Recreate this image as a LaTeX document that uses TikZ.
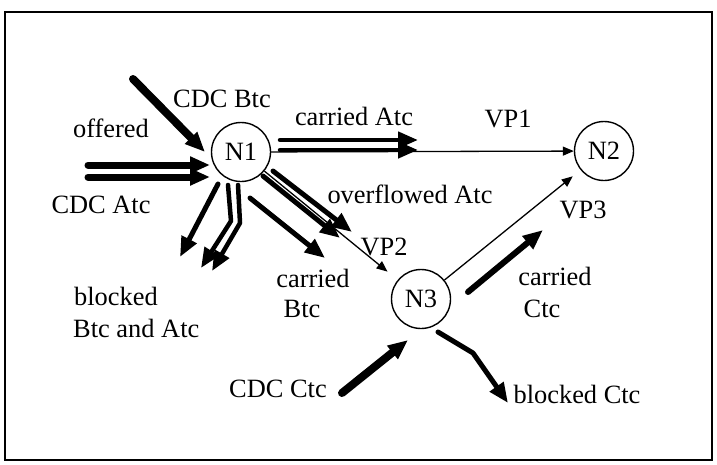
\documentclass[tikz,border=0pt]{standalone}
\usepackage{fontspec}
\setmainfont{Liberation Serif}
\usetikzlibrary{arrows.meta}
\begin{document}
\begin{tikzpicture}[x=1pt,y=-1pt,
  every node/.style={font=\fontsize{26.4}{30}\selectfont, inner sep=0pt},
  vnode/.style={draw, circle, minimum size=59pt, line width=1.4pt},
  lbl/.style={anchor=base},
  thinarrow/.style={line width=1.3pt, -{Triangle[length=11pt,width=9pt]}},
  fat/.style={line width=#1, line cap=round, line join=round, -{Triangle[length=20pt,width=16pt]}},
  fat/.default=5pt
]
\useasboundingbox (0,0) rectangle (717,464);
\draw[line width=2pt] (5,12) rectangle (712,460);

% nodes
\node[vnode] (N1) at (241,152) {N1};
\node[vnode] (N2) at (604,151) {N2};
\node[vnode] (N3) at (421,299) {N3};

% virtual paths
\draw[thinarrow] (N1) -- (N2);
\draw[thinarrow, shorten >=13pt] (N1) -- (N3);
\draw[thinarrow, shorten >=10pt] (N3) -- (N2);

% coordinates of traffic arrows
\coordinate (btcS) at (133,79);   \coordinate (btcE) at (205,152);
\coordinate (atcS1) at (88,165);  \coordinate (atcE1) at (210,165);
\coordinate (atcS2) at (88,177);  \coordinate (atcE2) at (210,177);
\coordinate (caS1) at (280,140);  \coordinate (caE1) at (418,140);
\coordinate (caS2) at (280,150);  \coordinate (caE2) at (418,150);
\coordinate (ovS1) at (273,171);  \coordinate (ovE1) at (352,232);
\coordinate (ovS2) at (263,176);  \coordinate (ovE2) at (340,238);
\coordinate (cbS) at (250,198);   \coordinate (cbE) at (325,258);
\coordinate (blS) at (218,184);   \coordinate (blE) at (180,257);
\coordinate (bdS1) at (228,185);  \coordinate (bdM1) at (231,221); \coordinate (bdE1) at (201,268);
\coordinate (bdS2) at (238,185);  \coordinate (bdM2) at (240,223); \coordinate (bdE2) at (212,271);
\coordinate (ccS) at (468,292);   \coordinate (ccE) at (543,230);
\coordinate (cdcS) at (342,393);  \coordinate (cdcE) at (408,340);
\coordinate (bcS) at (438,332);   \coordinate (bcM) at (473,353); \coordinate (bcE) at (508,403);

% traffic arrows
\draw[fat=8pt] (btcS) -- (btcE);
\draw[fat=7pt] (atcS1) -- (atcE1);
\draw[fat=7pt] (atcS2) -- (atcE2);
\draw[fat=4.5pt] (caS1) -- (caE1);
\draw[fat=4.5pt] (caS2) -- (caE2);
\draw[fat=5pt] (ovS1) -- (ovE1);
\draw[fat=5pt] (ovS2) -- (ovE2);
\draw[fat=5pt] (cbS) -- (cbE);
\draw[fat=5pt] (blS) -- (blE);
\draw[fat=4.5pt] (bdS1) -- (bdM1) -- (bdE1);
\draw[fat=4.5pt] (bdS2) -- (bdM2) -- (bdE2);
\draw[fat=6pt] (ccS) -- (ccE);
\draw[fat=8pt] (cdcS) -- (cdcE);
\draw[fat=5pt] (bcS) -- (bcM) -- (bcE);

% labels
\node[lbl] (tCDCB) at (222,107) {CDC Btc};
\node[lbl] (tOff) at (111,137) {offered};
\node[lbl] (tCDCA) at (101,213) {CDC Atc};
\node[lbl] (tCarA) at (354,125) {carried Atc};
\node[lbl] (tVP1) at (508,127) {VP1};
\node[lbl] (tOvf) at (410,203) {overflowed Atc};
\node[lbl] (tVP2) at (384,255) {VP2};
\node[lbl] (tVP3) at (583,218) {VP3};
\node[lbl] (tCarB1) at (313,287) {carried};
\node[lbl] (tCarB2) at (302,317) {Btc};
\node[lbl] (tCarC1) at (555,285) {carried};
\node[lbl] (tCarC2) at (542,317) {Ctc};
\node[lbl, anchor=base west] (tBl1) at (74,305) {blocked};
\node[lbl, anchor=base west] (tBl2) at (73,337) {Btc and Atc};
\node[lbl] (tCDCC) at (278,397) {CDC Ctc};
\node[lbl] (tBlC) at (577,403) {blocked Ctc};
\end{tikzpicture}
\end{document}
